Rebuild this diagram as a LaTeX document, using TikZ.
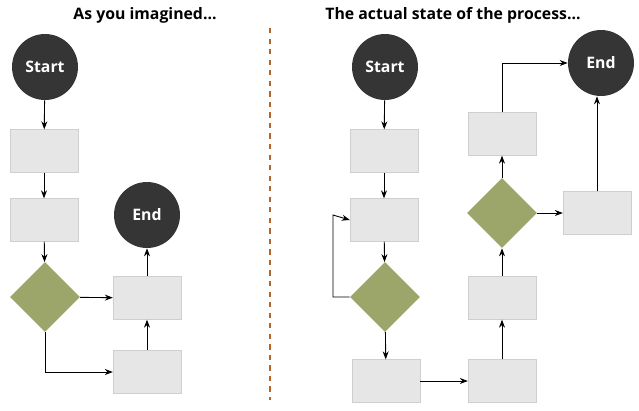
\documentclass[tikz,border=0pt]{standalone}
\usepackage{fontspec}
\setmainfont{Open Sans}
\usetikzlibrary{arrows.meta}
\usetikzlibrary{shapes.geometric}
\tikzset{
  every node/.style = {font = \bfseries\small},
  >={Stealth[length=1.6mm]}
}
\definecolor{darkcirc}{HTML}{353535}
\definecolor{boxfill}{HTML}{E6E6E6}
\definecolor{olive}{HTML}{9CA66A}
\definecolor{divider}{HTML}{B5652A}
\tikzset{
  term/.style = {circle, fill=darkcirc, text=white, minimum size=1.32cm, inner sep=0pt},
  task/.style = {rectangle, fill=boxfill, draw=boxfill!90!black, line width=0.2pt,
                 minimum width=1.36cm, minimum height=0.86cm},
  cond/.style = {diamond, fill=olive, minimum size=1.4cm, inner sep=0pt},
  flow/.style = {->, line width=0.5pt}
}

\begin{document}
\begin{tikzpicture}[x=0.02cm, y=-0.02cm]
  \useasboundingbox (0,0) rectangle (639,410);

  % Titles and divider
  \node (titleL) at (145,15) {As you imagined...};
  \node (titleR) at (453,15) {The actual state of the process...};
  \draw[divider, dashed, line width=1.2pt] (270,28) -- (270,400);

  % Left: as imagined
  \node[term] (startL) at (45,67) {Start};
  \node[task] (a1) at (44,151) {};
  \node[task] (a2) at (44,220) {};
  \node[cond] (q1) at (45,297) {};
  \node[term] (endL) at (147,215) {End};
  \node[task] (a3) at (147,298) {};
  \node[task] (a4) at (147,372) {};

  \draw[flow] (startL) -- (a1);
  \draw[flow] (a1) -- (a2);
  \draw[flow] (a2) -- (q1);
  \draw[flow] (q1) -- (a3);
  \draw[flow] (q1.south) |- (a4.west);
  \draw[flow] (a4) -- (a3);
  \draw[flow] (a3) -- (endL);

  % Right: actual
  \node[term] (startR) at (385,67) {Start};
  \node[task] (b1) at (384,151) {};
  \node[task] (b2) at (384,220) {};
  \node[cond] (q2) at (385,297) {};
  \node[task] (b3) at (386,381) {};
  \node[task] (b4) at (502,381) {};
  \node[task] (b5) at (502,298) {};
  \node[cond] (q3) at (502,213) {};
  \node[task] (b6) at (502,134) {};
  \node[term] (endR) at (601,63) {End};
  \node[task] (b7) at (597,213) {};
  \coordinate (loopL) at (333,215);

  \draw[flow] (startR) -- (b1);
  \draw[flow] (b1) -- (b2);
  \draw[flow] (b2) -- (q2);
  \draw[flow] (q2.west) -| (loopL) -- (b2.west);
  \draw[flow] (q2) -- (b3);
  \draw[flow] (b3) -- (b4);
  \draw[flow] (b4) -- (b5);
  \draw[flow] (b5) -- (q3);
  \draw[flow] (q3) -- (b6);
  \draw[flow] (b6.north) |- (endR.west);
  \draw[flow] (q3) -- (b7);
  \draw[flow] (b7.north) -- (b7.north |- endR.south);
\end{tikzpicture}
\end{document}
